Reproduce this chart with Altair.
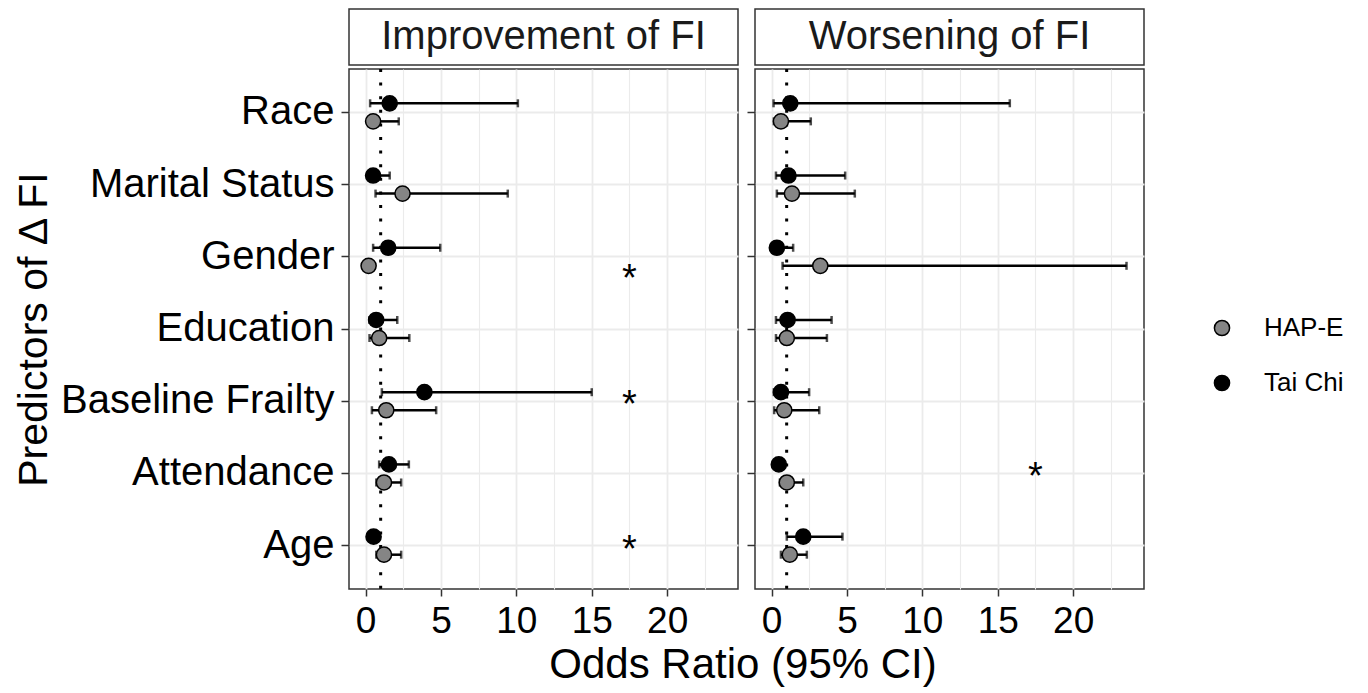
import altair as alt
import pandas as pd

FONT = "Liberation Sans"

outcomes = ["Improvement of FI", "Worsening of FI"]
predictors = ["Race", "Marital Status", "Gender", "Education",
              "Baseline Frailty", "Attendance", "Age"]
groups = ["HAP-E", "Tai Chi"]
group_colors = ["#858585", "#000000"]

# Improvement of FI
imp_tc_or = [1.6, 0.5, 1.5, 0.7, 3.9, 1.55, 0.53]
imp_tc_lo = [0.3, 0.15, 0.5, 0.26, 1.08, 0.9, 0.3]
imp_tc_hi = [10.1, 1.6, 4.95, 2.1, 15.0, 2.87, 0.8]
imp_hp_or = [0.5, 2.45, 0.2, 0.9, 1.37, 1.22, 1.22]
imp_hp_lo = [0.15, 0.66, 0.05, 0.26, 0.42, 0.71, 0.71]
imp_hp_hi = [2.2, 9.43, 0.55, 2.9, 4.68, 2.36, 2.36]

# Worsening of FI
wor_tc_or = [1.24, 1.12, 0.35, 1.06, 0.62, 0.48, 2.1]
wor_tc_lo = [0.13, 0.29, 0.08, 0.29, 0.15, 0.2, 1.01]
wor_tc_hi = [15.8, 4.88, 1.43, 3.98, 2.49, 0.8, 4.7]
wor_hp_or = [0.62, 1.35, 3.23, 1.01, 0.84, 1.01, 1.21]
wor_hp_lo = [0.15, 0.35, 0.73, 0.29, 0.17, 0.55, 0.62]
wor_hp_hi = [2.6, 5.52, 23.54, 3.67, 3.16, 2.1, 2.34]

# significance markers
star_outcome = ["Improvement of FI", "Improvement of FI", "Improvement of FI", "Worsening of FI"]
star_predictor = ["Gender", "Baseline Frailty", "Age", "Attendance"]
star_group = ["HAP-E", "Tai Chi", "Tai Chi", "Tai Chi"]
star_x = [17.5, 17.5, 17.5, 17.5]
star_label = ["*", "*", "*", "*"]

ref_or = [1]
x_ticks = [0, 5, 10, 15, 20]
x_grid = [0, 2.5, 5, 7.5, 10, 12.5, 15, 17.5, 20, 22.5]
x_domain = [-1.1, 24.7]
x_title = "Odds Ratio (95% CI)"
y_title = "Predictors of Δ FI"

rows = []
for outcome, grp, ors, los, his in [
    (outcomes[0], "Tai Chi", imp_tc_or, imp_tc_lo, imp_tc_hi),
    (outcomes[0], "HAP-E", imp_hp_or, imp_hp_lo, imp_hp_hi),
    (outcomes[1], "Tai Chi", wor_tc_or, wor_tc_lo, wor_tc_hi),
    (outcomes[1], "HAP-E", wor_hp_or, wor_hp_lo, wor_hp_hi),
]:
    for p, o, l, h in zip(predictors, ors, los, his):
        rows.append(dict(outcome=outcome, predictor=p, group=grp, OR=o, lo=l, hi=h))
df = pd.DataFrame(rows)

stars = pd.DataFrame(dict(outcome=star_outcome, predictor=star_predictor,
                          group=star_group, x=star_x, label=star_label))
ref_df = pd.DataFrame(dict(ref=ref_or))

W, H = 389, 520
STRIP_H = 56

xscale = alt.Scale(domain=x_domain, nice=False, zero=False)
yscale = alt.Scale(type="band", domain=predictors, paddingInner=0, paddingOuter=0.1)
yoff_scale = alt.Scale(domain=["Tai Chi", "HAP-E"], paddingInner=0, paddingOuter=1)

major_test = "datum.value % 5 === 0"
border = alt.ViewBackground(stroke="#333333", strokeWidth=1.5)


def panel(outcome, show_labels):
    d = df[df.outcome == outcome]
    s = stars[stars.outcome == outcome]

    xaxis = alt.Axis(
        values=x_grid, title=None,
        labelExpr=f"{major_test} ? '' + datum.value : ''",
        tickOpacity={"condition": {"test": major_test, "value": 1}, "value": 0},
        gridWidth={"condition": {"test": major_test, "value": 1.8}, "value": 1.1},
        grid=True, gridColor="#EBEBEB", tickSize=7, labelFontSize=37,
        labelPadding=7, domain=False,
    )
    if show_labels:
        yaxis = alt.Axis(title=y_title, labels=True, ticks=True, tickSize=8, grid=True,
                         gridColor="#EBEBEB", gridWidth=1.8, bandPosition=0.5,
                         domain=False, labelFontSize=40, labelPadding=7, labelLimit=400,
                         titleFontSize=41, titlePadding=94, titleFontWeight="normal")
    else:
        yaxis = alt.Axis(title=None, labels=False, ticks=True, tickSize=8, grid=True,
                         gridColor="#EBEBEB", gridWidth=1.8, bandPosition=0.5,
                         domain=False)

    legend = alt.Legend(title=None, orient="none", legendX=860, legendY=306,
                        labelFontSize=26, symbolSize=230, symbolType="circle",
                        symbolStrokeColor="black", symbolStrokeWidth=1.5,
                        rowPadding=29, labelOffset=29, labelFont=FONT)

    y_enc = alt.Y("predictor:N", scale=yscale, axis=yaxis)
    yo_enc = alt.YOffset("group:N", scale=yoff_scale)

    vline = alt.Chart(ref_df).mark_rule(
        strokeDash=[3, 10.6], strokeWidth=3, color="black"
    ).encode(x=alt.X("ref:Q", scale=xscale, axis=xaxis))

    base = alt.Chart(d).encode(y=y_enc, yOffset=yo_enc)
    bars = base.mark_rule(strokeWidth=2.5, color="black").encode(
        x=alt.X("lo:Q", scale=xscale, axis=xaxis), x2="hi:Q")
    cap_lo = base.mark_tick(thickness=2.5, size=8, color="black").encode(
        x=alt.X("lo:Q", scale=xscale, axis=xaxis))
    cap_hi = base.mark_tick(thickness=2.5, size=8, color="black").encode(
        x=alt.X("hi:Q", scale=xscale, axis=xaxis))
    pts = base.mark_circle(size=230, stroke="black", strokeWidth=1.5, opacity=1).encode(
        x=alt.X("OR:Q", scale=xscale, axis=xaxis),
        fill=alt.Fill("group:N", scale=alt.Scale(domain=groups, range=group_colors),
                      legend=legend),
    )
    star = alt.Chart(s).mark_text(fontSize=38, baseline="alphabetic", dy=25,
                                  color="black").encode(
        x=alt.X("x:Q", scale=xscale, axis=xaxis), y=y_enc, yOffset=yo_enc,
        text="label:N")

    main = alt.layer(vline, bars, cap_lo, cap_hi, pts, star).properties(
        width=W, height=H, view=border)
    strip = alt.Chart(pd.DataFrame(dict(outcome=[outcome]))).mark_text(
        fontSize=40, color="#1a1a1a").encode(
        x=alt.X("outcome:N", axis=None),
        text="outcome:N").properties(width=W, height=STRIP_H, view=border)
    return alt.vconcat(strip, main, spacing=0)


panels = alt.hconcat(panel(outcomes[0], True), panel(outcomes[1], False), spacing=6)

title_chart = alt.Chart(pd.DataFrame(dict(t=[x_title]))).mark_text(
    fontSize=42, color="black").encode(text="t:N").properties(
    width=788, height=44, view=alt.ViewBackground(stroke="transparent"))

chart = alt.vconcat(panels, title_chart, spacing=2).properties(
    padding={"left": 4, "top": 0, "right": 0, "bottom": 0}, background="white"
).configure_view(
    stroke="#333333", strokeWidth=1.5
).configure_axis(
    labelFont=FONT, titleFont=FONT, labelColor="black", titleColor="black",
    tickColor="#333333", tickWidth=1.5
).configure_text(font=FONT).configure_legend(labelFont=FONT, labelColor="black")

chart.save("out.html", embed_options={"renderer": "svg", "actions": False})
